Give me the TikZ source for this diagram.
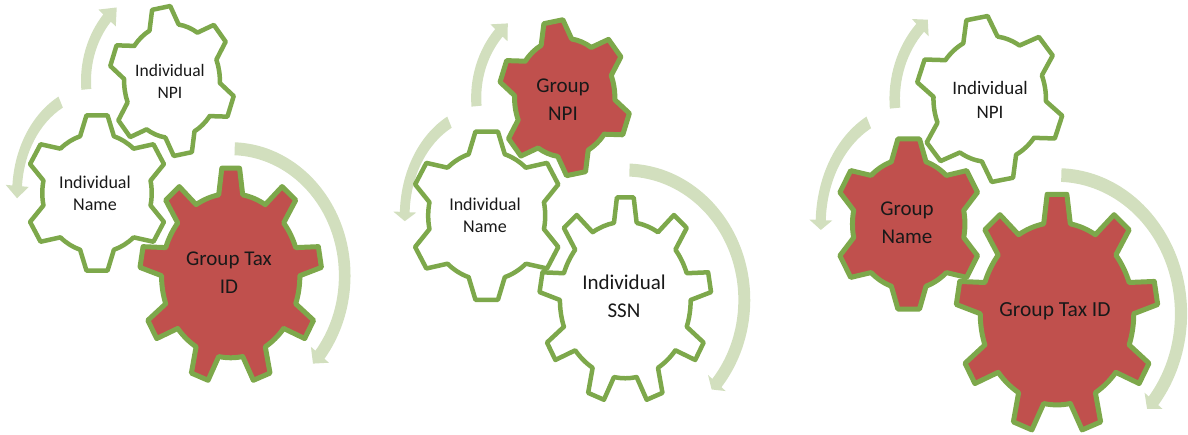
\documentclass[tikz,border=0pt]{standalone}
\usepackage{fontspec}
\setmainfont{Carlito}
\definecolor{gearline}{HTML}{7DA84B}
\definecolor{gearred}{HTML}{C0504D}
\definecolor{arcgreen}{HTML}{D2DFBE}
\tikzset{
   gearwhite/.style={draw=gearline,fill=white,line width=4.5pt,line join=round},
   gearfull/.style={draw=gearline,fill=gearred,line width=5pt,line join=round},
   arcband/.style={fill=arcgreen},
   geartext/.style 2 args={align=center,inner sep=0pt,text=black!90,font=\fontsize{#1}{#2}\selectfont}
}
\newcommand{\gearshape}[7]{%
   \pgfmathsetmacro{\gearstep}{360/#7}
   \pgfmathsetmacro{\geartip}{.14*\gearstep}
   \pgfmathsetmacro{\gearbase}{(#7<8 ? .3 : .25)*\gearstep}
   \draw[#1,shift={(#2,#3)},xscale=#4,yscale=#5] (#6-\gearbase:.76)
      \foreach \k in {1,...,#7} {
         -- (#6+\k*\gearstep-\gearstep-\gearbase:.76)
         -- (#6+\k*\gearstep-\gearstep-\geartip:1)
         -- (#6+\k*\gearstep-\gearstep+\geartip:1)
         -- (#6+\k*\gearstep-\gearstep+\gearbase:.76)
         arc[start angle=#6+\k*\gearstep-\gearstep+\gearbase,end angle=#6+\k*\gearstep-\gearbase,radius=.76]
      } -- cycle;
}
\newcommand{\arcarrow}[7]{%
   \pgfmathsetmacro{\bandw}{(2.5+.029*#3)/#3}
   \pgfmathsetmacro{\headw}{11.5/#3}
   \fill[arcband,shift={(#1,#2)},xscale=#3,yscale=#4] (#5:1+\bandw)
      arc[start angle=#5,end angle=#6,radius=1+\bandw]
      -- (#6:1+\headw) -- (#7:1) -- (#6:1-\headw) -- (#6:1-\bandw)
      arc[start angle=#6,end angle=#5,radius=1-\bandw] -- cycle;
}
\begin{document}
\begin{tikzpicture}[x=1pt,y=1pt]
   \useasboundingbox (0,0) rectangle (1188,434);
   \arcarrow{172}{353}{86}{96}{185}{139}{130}
   \arcarrow{97}{241}{80}{102}{117}{176}{183}
   \arcarrow{230.7}{158.3}{114}{127}{88}{-38.5}{-43.8}
   \gearshape{gearwhite}{172}{353}{63}{75}{100}{6}
   \gearshape{gearwhite}{97}{241}{72}{78.5}{90}{6}
   \gearshape{gearfull}{230.7}{158.3}{91}{108}{90}{9}
   \node[geartext={17.5}{22}] (npiA) at (170,353) {Individual\\NPI};
   \node[geartext={18}{22}] (nameA) at (95,241) {Individual\\Name};
   \node[geartext={21}{28}] (taxA) at (229,161) {Group Tax\\ID};

   \arcarrow{564.7}{336.3}{88.5}{97}{185}{138}{130}
   \arcarrow{486.7}{218.3}{82}{105}{117}{178}{183}
   \arcarrow{625.3}{134}{119}{130}{88}{-39.7}{-43.5}
   \gearshape{gearfull}{564.7}{336.3}{66}{78}{100}{6}
   \gearshape{gearwhite}{486.7}{218.3}{77}{85}{90}{6}
   \gearshape{gearwhite}{625.3}{134}{86}{103}{90}{9}
   \node[geartext={21}{28}] (npiB) at (563,334) {Group\\NPI};
   \node[geartext={18}{22}] (nameB) at (485,219) {Individual\\Name};
   \node[geartext={21}{28}] (ssnB) at (624,138) {Individual\\SSN};

   \arcarrow{989.7}{335}{95}{104.6}{185}{137}{130.7}
   \arcarrow{908.7}{210}{88}{114}{117}{178}{183}
   \arcarrow{1057}{120.3}{124}{138.7}{88}{-38.9}{-43.4}
   \gearshape{gearwhite}{989.7}{335}{74}{83}{100}{6}
   \gearshape{gearfull}{908.7}{210}{74}{86}{90}{6}
   \gearshape{gearfull}{1057}{120.3}{101}{120}{90}{9}
   \node[geartext={19}{24}] (npiC) at (990,334) {Individual\\NPI};
   \node[geartext={21}{28}] (nameC) at (907,211) {Group\\Name};
   \node[geartext={21.5}{28}] (taxC) at (1055,123) {Group Tax ID};
\end{tikzpicture}
\end{document}
